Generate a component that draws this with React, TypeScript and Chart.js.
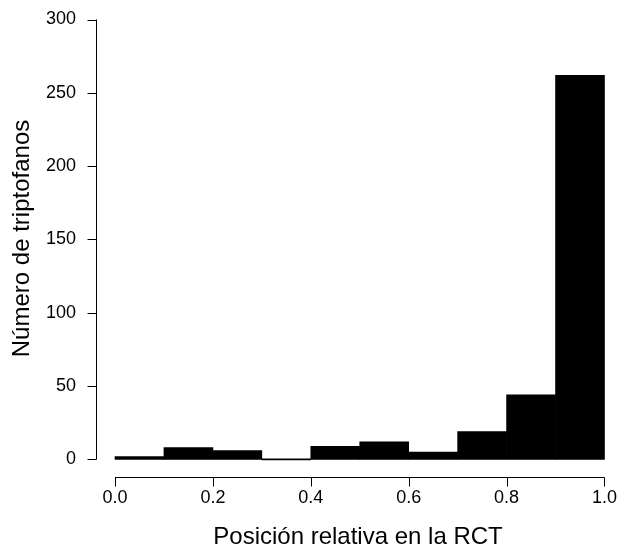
import React, { useEffect, useRef } from "react";
import { Chart, registerables } from "chart.js";

Chart.register(...registerables);

// Histogram bins (left edges), bin width and counts
const binStarts = [0.0, 0.1, 0.2, 0.3, 0.4, 0.5, 0.6, 0.7, 0.8, 0.9];
const binWidth = 0.1;
const counts = [2, 8, 6, 0, 9, 12, 5, 19, 44, 262];

// Axis ticks
const xTicks = [0.0, 0.2, 0.4, 0.6, 0.8, 1.0];
const xTickLabels = ["0.0", "0.2", "0.4", "0.6", "0.8", "1.0"];
const yTicks = [0, 50, 100, 150, 200, 250, 300];

const xTitle = "Posición relativa en la RCT";
const yTitle = "Número de triptofanos";

const FONT = "'Liberation Sans', Arial, Helvetica, sans-serif";

const rAxesPlugin = {
  id: "rAxes",
  afterDraw(chart: any) {
    const { ctx, chartArea, scales } = chart;
    const x = scales.x;
    const y = scales.y;
    ctx.save();
    ctx.strokeStyle = "#000";
    ctx.lineWidth = 1;
    // y axis
    const ax = Math.round(chartArea.left) + 0.5;
    const y0 = y.getPixelForValue(yTicks[0]);
    const y1 = y.getPixelForValue(yTicks[yTicks.length - 1]);
    ctx.beginPath();
    ctx.moveTo(ax, y0);
    ctx.lineTo(ax, y1);
    yTicks.forEach((t) => {
      const py = Math.round(y.getPixelForValue(t)) + 0.5;
      ctx.moveTo(ax, py);
      ctx.lineTo(ax - 9, py);
    });
    ctx.stroke();
    // x axis
    const ay = Math.round(chartArea.bottom) + 0.5;
    const x0 = x.getPixelForValue(xTicks[0]);
    const x1 = x.getPixelForValue(xTicks[xTicks.length - 1]);
    ctx.beginPath();
    ctx.moveTo(x0, ay);
    ctx.lineTo(x1, ay);
    xTicks.forEach((t) => {
      const px = Math.round(x.getPixelForValue(t)) + 0.5;
      ctx.moveTo(px, ay);
      ctx.lineTo(px, ay + 9);
    });
    ctx.stroke();
    // x tick labels
    ctx.fillStyle = "#000";
    ctx.font = `18px ${FONT}`;
    ctx.textAlign = "center";
    ctx.textBaseline = "middle";
    xTicks.forEach((t, i) => {
      ctx.fillText(xTickLabels[i], x.getPixelForValue(t), chartArea.bottom + 21);
    });
    ctx.restore();
  },
};

export default function App() {
  const canvasRef = useRef<HTMLCanvasElement | null>(null);

  useEffect(() => {
    if (!canvasRef.current) return;
    const data = binStarts.map((s, i) => ({ x: s + binWidth / 2, y: counts[i] }));
    const chart = new Chart(canvasRef.current, {
      type: "bar",
      data: {
        datasets: [
          {
            data: data as any,
            backgroundColor: "#000",
            borderWidth: 0,
            barPercentage: 1,
            categoryPercentage: 1,
            minBarLength: 1,
          },
        ],
      },
      options: {
        responsive: false,
        animation: false,
        devicePixelRatio: 1,
        layout: { padding: 0 },
        plugins: {
          legend: { display: false },
          tooltip: { enabled: false },
        },
        scales: {
          x: {
            type: "linear",
            offset: false,
            min: -0.0388,
            max: 1.0317,
            grid: { display: false, drawTicks: false, offset: false },
            border: { display: false },
            ticks: { display: false, stepSize: 0.2 },
            title: {
              display: true,
              text: xTitle,
              color: "#000",
              font: { family: FONT, size: 24 },
              padding: { top: 0, bottom: 0 },
            },
            afterFit: (scale: any) => {
              scale.height = 75;
              scale.paddingLeft = 0;
              scale.paddingRight = 0;
            },
          },
          y: {
            type: "linear",
            min: -12,
            max: 313.3,
            grid: { display: false, drawTicks: false },
            border: { display: false },
            ticks: {
              stepSize: 50,
              includeBounds: false,
              padding: 20,
              color: "#000",
              font: { family: FONT, size: 18 },
              callback: (v: any) => String(Math.round(Number(v))),
            },
            title: {
              display: true,
              text: yTitle,
              color: "#000",
              font: { family: FONT, size: 24 },
              padding: { top: 8, bottom: 0 },
            },
            afterFit: (scale: any) => {
              scale.width = 96;
              scale.paddingTop = 0;
              scale.paddingBottom = 0;
            },
          },
        },
      },
      plugins: [rAxesPlugin],
    });
    return () => chart.destroy();
  }, []);

  return (
    <div style={{ position: "fixed", left: 0, top: 0, width: 620, height: 552, background: "#fff" }}>
      <canvas ref={canvasRef} width={620} height={552} style={{ display: "block" }} />
    </div>
  );
}
